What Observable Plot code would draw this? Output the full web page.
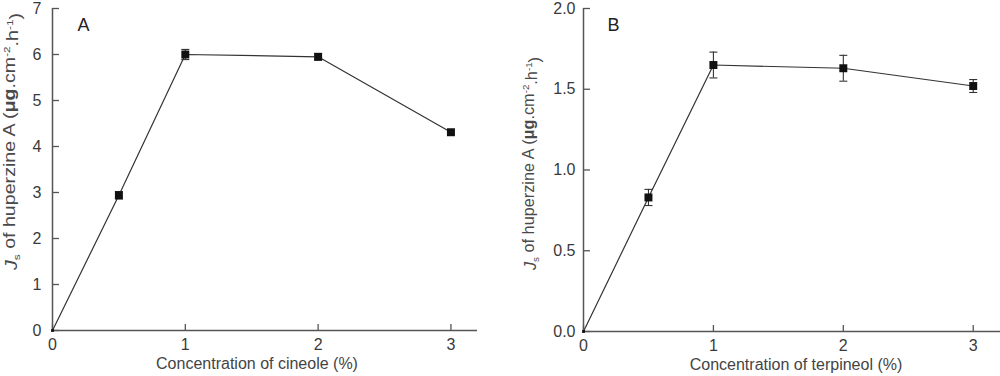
<!DOCTYPE html>
<html>
<head>
<meta charset="utf-8">
<script src="https://cdn.jsdelivr.net/npm/d3@7"></script>
<script src="https://cdn.jsdelivr.net/npm/@observablehq/plot@0.6"></script>
<style>
  html, body { margin: 0; padding: 0; background: #fff; }
  #wrap { display: flex; width: 1000px; height: 376px; }
  #wrap svg { display: block; }
</style>
</head>
<body>
<div id="wrap"></div>
<script>
// ---- data ----
const conc = [0, 0.5, 1, 2, 3];
const fluxA = [0, 2.94, 6.0, 5.95, 4.31];
const errA = [0, 0.08, 0.11, 0.07, 0.04];
const fluxB = [0, 0.83, 1.65, 1.63, 1.52];
const errB = [0, 0.05, 0.08, 0.08, 0.04];
const xTicks = [0, 1, 2, 3];
const yTicksA = [0, 1, 2, 3, 4, 5, 6, 7];
const yTicksB = [0, 0.5, 1.0, 1.5, 2.0];
const xLabelA = "Concentration of cineole (%)";
const xLabelB = "Concentration of terpineol (%)";

const capSymbol = {
  draw(context, size) {
    const w = Math.sqrt(size / Math.PI);
    context.moveTo(-w, 0);
    context.lineTo(w, 0);
  }
};

function panel(opts) {
  const {flux, err, yTicks, yDomain, xDomain, yFormat, letter, xLabel,
         marginLeft, marginRight, marginBottom, labelX, labelY, xLabelDx} = opts;
  const rows = conc.map((c, i) => ({c, v: flux[i], lo: flux[i] - err[i], hi: flux[i] + err[i], e: err[i]}));
  const pts = rows.filter(d => d.c > 0);
  const axisColor = "#555";
  const svg = Plot.plot({
    width: 500,
    height: 376,
    marginLeft, marginRight, marginTop: 8, marginBottom,
    style: {fontFamily: "'Liberation Sans', Arial, sans-serif", fontSize: "16px", color: "#333", background: "#fff"},
    x: {domain: xDomain, ticks: xTicks, label: null},
    y: {domain: yDomain, ticks: yTicks, label: null},
    marks: [
      Plot.axisX(xTicks, {tickSize: -6, text: null, stroke: axisColor, strokeWidth: 1.3}),
      Plot.axisX(xTicks, {tickSize: 0, tickPadding: 8, tickFormat: d => String(d), fill: "#3a3a3a", fontSize: 16}),
      Plot.axisY(yTicks, {tickSize: -7, text: null, stroke: axisColor, strokeWidth: 1.3}),
      Plot.axisY(yTicks, {tickSize: 0, tickPadding: opts.yPad, tickFormat: yFormat, fill: "#3a3a3a", fontSize: 16}),
      Plot.ruleX([xDomain[0]], {stroke: axisColor, strokeWidth: 1.5}),
      Plot.ruleY([yDomain[0]], {stroke: axisColor, strokeWidth: 1.5}),
      Plot.line(rows, {x: "c", y: "v", stroke: "#333", strokeWidth: 1.2}),
      Plot.ruleX(pts.filter(d => d.e > 0), {x: "c", y1: "lo", y2: "hi", stroke: "#333", strokeWidth: 1.1}),
      Plot.dot(pts.filter(d => d.e > 0), {x: "c", y: "lo", symbol: capSymbol, r: 4, stroke: "#333", strokeWidth: 1.1, fill: "none"}),
      Plot.dot(pts.filter(d => d.e > 0), {x: "c", y: "hi", symbol: capSymbol, r: 4, stroke: "#333", strokeWidth: 1.1, fill: "none"}),
      Plot.dot(pts, {x: "c", y: "v", symbol: "square", r: 4.5, fill: "#111", stroke: "none"}),
      Plot.dot(rows.filter(d => d.c === 0), {x: "c", y: "v", symbol: "square", r: 1.6, fill: "#111", stroke: "none"}),
      Plot.text([letter], {frameAnchor: "top-left", dx: opts.letterDx, dy: 10, fontSize: 18, fill: "#222"}),
      Plot.text([xLabel], {frameAnchor: "bottom", dx: xLabelDx, dy: 38, fontSize: 16, fill: "#444"})
    ]
  });
  // rich y-axis title (italic J, subscript s, superscripts)
  const t = d3.select(svg).append("text")
    .attr("transform", `translate(${labelX},${labelY}) rotate(-90)`)
    .attr("text-anchor", "start")
    .attr("fill", "#4a4a4a")
    .attr("font-size", opts.yLabelSize)
    .attr("font-family", "'Liberation Sans', Arial, sans-serif")
    .attr("textLength", opts.yLabelLength)
    .attr("lengthAdjust", "spacingAndGlyphs");
  t.append("tspan").attr("font-style", "italic").text("J");
  t.append("tspan").attr("font-size", "0.6em").attr("dy", "0.3em").text("s");
  t.append("tspan").attr("dy", "-0.3em").text(" of huperzine A (");
  t.append("tspan").attr("font-weight", "bold").text("μg");
  t.append("tspan").text(".cm");
  t.append("tspan").attr("font-size", "0.6em").attr("dy", "-0.5em").text("-2");
  t.append("tspan").attr("dy", "0.5em").text(".h");
  t.append("tspan").attr("font-size", "0.6em").attr("dy", "-0.5em").text("-1");
  t.append("tspan").attr("dy", "0.5em").text(")");
  return svg;
}

const wrap = document.getElementById("wrap");
wrap.appendChild(panel({
  flux: fluxA, err: errA, yTicks: yTicksA, yDomain: [0, 7], xDomain: [0, 3.2],
  yFormat: d => String(d), letter: "A", xLabel: xLabelA,
  marginLeft: 52, marginRight: 23, marginBottom: 46, yPad: 11,
  labelX: 17, labelY: 270, xLabelDx: -8, letterDx: 25, yLabelSize: 16, yLabelLength: 257
}));
wrap.appendChild(panel({
  flux: fluxB, err: errB, yTicks: yTicksB, yDomain: [0, 2], xDomain: [0, 3.21],
  yFormat: d => d.toFixed(1), letter: "B", xLabel: xLabelB,
  marginLeft: 83, marginRight: 0, marginBottom: 45, yPad: 8,
  labelX: 36, labelY: 270, xLabelDx: 4, letterDx: 24, yLabelSize: 16, yLabelLength: 213
}));
</script>
</body>
</html>
